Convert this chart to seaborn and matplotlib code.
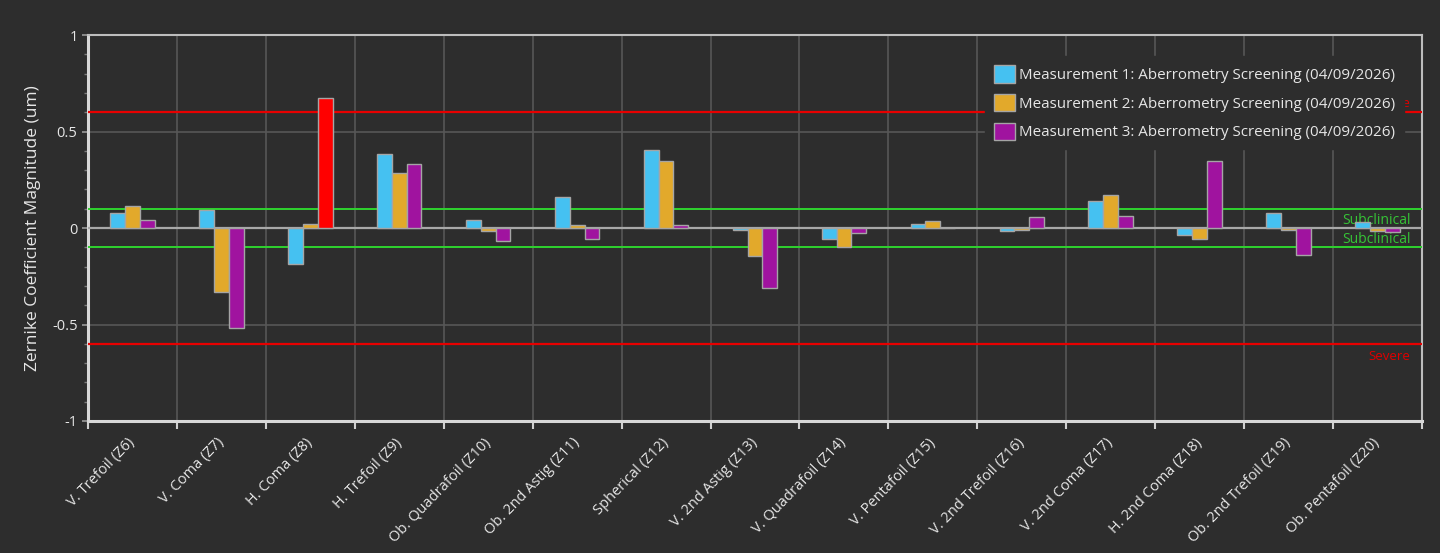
import matplotlib
matplotlib.use("Agg")
import matplotlib.pyplot as plt
import numpy as np
import pandas as pd
import seaborn as sns

terms = ["V. Trefoil (Z6)", "V. Coma (Z7)", "H. Coma (Z8)", "H. Trefoil (Z9)",
         "Ob. Quadrafoil (Z10)", "Ob. 2nd Astig (Z11)", "Spherical (Z12)",
         "V. 2nd Astig (Z13)", "V. Quadrafoil (Z14)", "V. Pentafoil (Z15)",
         "V. 2nd Trefoil (Z16)", "V. 2nd Coma (Z17)", "H. 2nd Coma (Z18)",
         "Ob. 2nd Trefoil (Z19)", "Ob. Pentafoil (Z20)"]
meas_1 = [0.076, 0.095, -0.187, 0.385, 0.043, 0.163, 0.402, -0.010, -0.057,
          0.019, -0.017, 0.142, -0.038, 0.076, 0.030]
meas_2 = [0.116, -0.330, 0.020, 0.284, -0.014, 0.015, 0.346, -0.144, -0.097,
          0.034, -0.010, 0.170, -0.059, -0.010, -0.017]
meas_3 = [0.042, -0.520, 0.676, 0.330, -0.066, -0.057, 0.017, -0.309, -0.028,
          0.000, 0.055, 0.060, 0.345, -0.139, -0.023]
series = ["Measurement 1: Aberrometry Screening (04/09/2026)",
          "Measurement 2: Aberrometry Screening (04/09/2026)",
          "Measurement 3: Aberrometry Screening (04/09/2026)"]
colors = ["#45c1f1", "#e2a92b", "#a0139f"]
subclinical = 0.1
severe = 0.6

df = pd.DataFrame({
    "term": terms * 3,
    "value": meas_1 + meas_2 + meas_3,
    "measurement": [series[0]] * 15 + [series[1]] * 15 + [series[2]] * 15,
})

bg = "#2d2d2d"
fg = "#e6e6e6"
sns.set_theme(style="dark")
plt.rcParams["font.family"] = ["Open Sans", "DejaVu Sans"]

fig = plt.figure(figsize=(14.4, 5.53), dpi=100, facecolor=bg)
ax = fig.add_axes([0.0611, 0.2387, 0.9264, 0.698])
ax.set_facecolor(bg)

sns.barplot(data=df, x="term", y="value", hue="measurement", order=terms,
            hue_order=series, palette=colors, saturation=1, width=0.5,
            edgecolor="#a5a5a5", linewidth=1.0, ax=ax, zorder=4)

for cont in ax.containers:
    for bar in cont:
        if bar.get_height() > severe:
            bar.set_facecolor("#ff0000")

# threshold lines
ax.axhline(severe, color="#e80000", lw=1.6, zorder=3)
ax.axhline(-severe, color="#e80000", lw=1.6, zorder=3)
ax.axhline(subclinical, color="#2fd32f", lw=1.4, zorder=3)
ax.axhline(-subclinical, color="#2fd32f", lw=1.4, zorder=3)
ax.axhline(0, color="#a8a8a8", lw=1.6, zorder=3)

ax.text(14.37, severe + 0.045, "Severe", color="#e00000", fontsize=9.5,
        ha="right", va="center", zorder=2)
ax.text(14.37, -severe - 0.065, "Severe", color="#e00000", fontsize=9.5,
        ha="right", va="center", zorder=2)
ax.text(14.37, 0.04, "Subclinical", color="#36c436", fontsize=10,
        ha="right", va="center", zorder=3)
ax.text(14.37, -0.06, "Subclinical", color="#36c436", fontsize=10,
        ha="right", va="center", zorder=3)

# category labels sit under the bar groups, ticks and grid on the boundaries
ax.set_xlim(-0.5, 14.5)
ax.set_ylim(-1, 1)
ax.set_xticks(np.arange(15))
ax.set_xticklabels(terms, rotation=46, ha="right", va="center",
                   rotation_mode="anchor", fontsize=10.5, color=fg)
ax.set_xticks(np.arange(16) - 0.5, minor=True)
ax.tick_params(axis="x", which="major", length=0, pad=14, bottom=False)
ax.tick_params(axis="x", which="minor", length=6, width=1.5, color="#d0d0d0",
               direction="out", bottom=True)
ax.set_yticks([-1, -0.5, 0, 0.5, 1])
ax.set_yticklabels(["-1", "-0.5", "0", "0.5", "1"], fontsize=10.5, color=fg)
ax.set_yticks(np.arange(-1, 1.01, 0.1), minor=True)
ax.tick_params(axis="y", which="major", length=4, width=1.2, color="#9a9a9a",
               left=True)
ax.tick_params(axis="y", which="minor", length=3, width=1, color="#7a7a7a",
               left=True)
ax.grid(False)
ax.grid(True, axis="y", which="major", color="#575757", lw=1.2, zorder=0)
ax.grid(True, axis="x", which="minor", color="#575757", lw=1.2, zorder=0)
ax.set_axisbelow(True)

ax.set_xlabel("")
ax.set_ylabel("Zernike Coefficient Magnitude (um)", color=fg, fontsize=12.5,
              labelpad=8)

for side in ["left", "bottom"]:
    ax.spines[side].set_color("#d8d8d8")
    ax.spines[side].set_linewidth(2.2)
for side in ["top", "right"]:
    ax.spines[side].set_color("#bdbdbd")
    ax.spines[side].set_linewidth(1.5)
for sp in ax.spines.values():
    sp.set_visible(True)

handles, labels = ax.get_legend_handles_labels()
leg = ax.legend(handles, labels, loc="upper right", bbox_to_anchor=(0.9925, 0.965),
                fontsize=10.9, frameon=True, facecolor=bg, edgecolor=bg,
                framealpha=1.0, handlelength=1.4, handleheight=1.4,
                handletextpad=0.25, labelspacing=0.72, borderpad=0.6)
for t in leg.get_texts():
    t.set_color(fg)
leg.set_zorder(10)

fig.savefig("out.png", dpi=100, facecolor=bg)
